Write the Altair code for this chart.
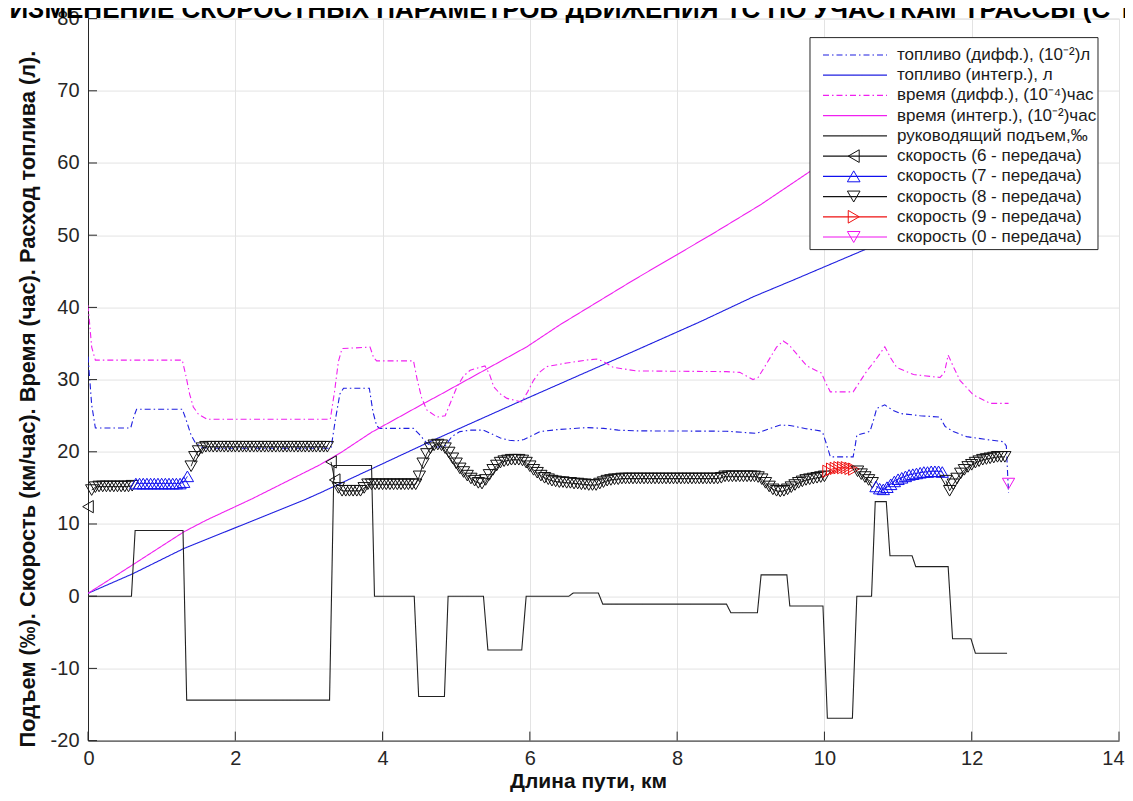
import altair as alt
import pandas as pd

# ---------------- text ----------------
TITLE_TEXT = ". ИЗМЕНЕНИЕ СКОРОСТНЫХ ПАРАМЕТРОВ  ДВИЖЕНИЯ ТС ПО УЧАСТКАМ ТРАССЫ (С ТЕ"
Y_TITLE = "Подъем (‰).  Скорость (км/час).  Время (час).  Расход топлива (л)."
X_TITLE = "Длина пути, км"

N_FD = "топливо (дифф.), (10⁻²)л"
N_FI = "топливо (интегр.), л"
N_TD = "время (дифф.), (10⁻⁴)час"
N_TI = "время (интегр.), (10⁻²)час"
N_GR = "руководящий подъем,‰"
N_G6 = "скорость (6 - передача)"
N_G7 = "скорость (7 - передача)"
N_G8 = "скорость (8 - передача)"
N_G9 = "скорость (9 - передача)"
N_G0 = "скорость (0 - передача)"

series_names = [N_FD, N_FI, N_TD, N_TI, N_GR, N_G6, N_G7, N_G8, N_G9, N_G0]
series_colors = ["#1f1fe0", "#1f1fe0", "#f020f0", "#f020f0", "#222222",
                 "#111111", "#1010ee", "#111111", "#ee1010", "#ee10ee"]
series_dash = [[6, 3, 1.5, 3], [1, 0], [6, 3, 1.5, 3], [1, 0], [1, 0],
               [1, 0], [1, 0], [1, 0], [1, 0], [1, 0]]
series_shapes = ["circle", "circle", "circle", "circle", "circle",
                 "triangle-left", "triangle-up", "triangle-down", "triangle-right", "triangle-down"]

x_ticks = [0, 2, 4, 6, 8, 10, 12, 14]
y_ticks = [-20, -10, 0, 10, 20, 30, 40, 50, 60, 70, 80]

# ---------------- data ----------------
grade_km = [0.00, 0.59, 0.64, 1.29, 1.34, 3.28, 3.34, 3.85, 3.89, 4.43,
            4.49, 4.84, 4.89, 5.37, 5.43, 5.89, 5.95, 6.53, 6.59, 6.93,
            6.99, 8.67, 8.73, 9.09, 9.14, 9.49, 9.53, 9.98, 10.04, 10.38,
            10.44, 10.64, 10.69, 10.84, 10.89, 11.19, 11.24, 11.68, 11.74, 11.99,
            12.05, 12.48]
grade_val = [0, 0, 9.1, 9.1, -14.4, -14.4, 18.1, 18.1, 0, 0,
             -13.9, -13.9, 0, 0, -7.45, -7.45, 0, 0, 0.45, 0.45,
             -1.1, -1.1, -2.3, -2.3, 2.95, 2.95, -1.35, -1.35, -16.9, -16.9,
             0, 0, 13.1, 13.1, 5.6, 5.6, 4.1, 4.1, -5.9, -5.9,
             -7.9, -7.9]

fuel_diff_km = [0.00, 0.05, 0.10, 0.58, 0.62, 0.66, 1.28, 1.33, 1.40, 1.46,
                1.55, 1.65, 3.30, 3.36, 3.42, 3.47, 3.82, 3.87, 3.92, 3.96,
                4.42, 4.50, 4.60, 4.70, 4.85, 4.94, 5.05, 5.20, 5.37, 5.48,
                5.60, 5.72, 5.82, 5.92, 6.00, 6.14, 6.40, 6.77, 7.00, 7.20,
                7.45, 8.67, 9.08, 9.25, 9.40, 9.53, 9.75, 9.94, 9.98, 10.03,
                10.08, 10.39, 10.42, 10.44, 10.55, 10.62, 10.67, 10.71, 10.82, 10.92,
                11.03, 11.30, 11.57, 11.60, 11.64, 11.75, 11.93, 12.20, 12.43, 12.47,
                12.50]
fuel_diff_val = [33.2, 26.5, 23.3, 23.3, 24.8, 25.9, 25.9, 24.5, 22.3, 21.2,
                 20.6, 20.5, 20.5, 24.5, 28.0, 28.8, 28.8, 25.5, 23.6, 23.25,
                 23.25, 22.4, 21.2, 20.6, 20.8, 22.1, 22.8, 23.0, 23.0, 22.5,
                 21.9, 21.6, 21.5, 21.7, 22.1, 22.8, 23.1, 23.35, 23.25, 23.0,
                 22.9, 22.85, 22.55, 23.2, 23.7, 23.65, 23.2, 22.9, 22.55, 21.0,
                 19.3, 19.3, 21.0, 22.3, 22.6, 22.85, 24.5, 26.0, 26.5, 25.8,
                 25.3, 25.0, 24.8, 24.2, 23.5, 22.8, 22.1, 21.7, 21.4, 20.8,
                 14.3]

time_diff_km = [0.00, 0.05, 0.10, 1.28, 1.33, 1.38, 1.43, 1.50, 1.62, 3.29,
                3.35, 3.40, 3.45, 3.83, 3.88, 3.92, 4.42, 4.47, 4.53, 4.60,
                4.74, 4.85, 4.93, 5.01, 5.10, 5.19, 5.39, 5.45, 5.51, 5.60,
                5.69, 5.89, 5.97, 6.05, 6.13, 6.23, 6.50, 6.77, 6.91, 7.00,
                7.13, 7.45, 8.67, 8.85, 9.03, 9.10, 9.22, 9.35, 9.44, 9.52,
                9.62, 9.76, 9.96, 10.02, 10.08, 10.39, 10.48, 10.57, 10.70, 10.82,
                10.90, 10.98, 11.21, 11.57, 11.63, 11.68, 11.75, 11.84, 12.02, 12.25,
                12.50]
time_diff_val = [40.3, 34.5, 32.7, 32.7, 30.5, 28.0, 26.2, 25.2, 24.5, 24.5,
                 28.5, 32.5, 34.3, 34.5, 33.0, 32.6, 32.6, 30.0, 27.5, 25.8,
                 24.8, 25.0, 27.0, 29.0, 30.5, 31.3, 31.9, 30.8, 29.0, 28.0,
                 27.4, 26.9, 28.3, 29.9, 31.0, 31.8, 32.3, 32.7, 32.85, 32.5,
                 31.7, 31.2, 31.1, 31.0, 30.0, 30.3, 32.3, 34.5, 35.35, 34.8,
                 33.6, 31.9, 30.9, 29.5, 28.3, 28.3, 29.7, 31.1, 32.8, 34.55,
                 33.0, 31.7, 30.7, 30.3, 31.0, 33.4, 31.8, 29.9, 27.9, 26.7,
                 26.7]

fuel_int_km = [0.00, 0.60, 1.30, 2.93, 3.15, 4.60, 5.87, 7.45, 8.31, 9.04, 9.58, 10.48, 12.50]
fuel_int_val = [0.4, 3.07, 6.6, 13.3, 14.3, 21.2, 27.0, 34.1, 38.0, 41.5, 43.8, 47.7, 56.6]

time_int_km = [0.00, 0.60, 1.30, 1.60, 2.23, 3.15, 3.45, 3.85, 4.56, 4.78,
               5.96, 6.41, 7.41, 8.45, 9.13, 9.80, 10.40, 11.50, 12.50]
time_int_val = [0.4, 4.3, 8.9, 10.5, 13.5, 18.2, 20.0, 22.7, 26.7, 27.9,
                34.55, 37.6, 43.8, 50.0, 54.2, 58.8, 62.4, 69.0, 75.0]

speed_km = [0.00, 0.05, 0.10, 0.15, 0.20, 0.25, 0.30, 0.35, 0.40, 0.45,
            0.50, 0.55, 0.60, 0.65, 0.70, 0.75, 0.80, 0.85, 0.90, 0.95,
            1.00, 1.05, 1.10, 1.15, 1.20, 1.25, 1.30, 1.35, 1.40, 1.45,
            1.50, 1.55, 1.60, 1.65, 1.70, 1.75, 1.80, 1.85, 1.90, 1.95,
            2.00, 2.05, 2.10, 2.15, 2.20, 2.25, 2.30, 2.35, 2.40, 2.45,
            2.50, 2.55, 2.60, 2.65, 2.70, 2.75, 2.80, 2.85, 2.90, 2.95,
            3.00, 3.05, 3.10, 3.15, 3.20, 3.25, 3.30, 3.35, 3.40, 3.45,
            3.50, 3.55, 3.60, 3.65, 3.70, 3.75, 3.80, 3.85, 3.90, 3.95,
            4.00, 4.05, 4.10, 4.15, 4.20, 4.25, 4.30, 4.35, 4.40, 4.45,
            4.50, 4.55, 4.60, 4.65, 4.70, 4.75, 4.80, 4.85, 4.90, 4.95,
            5.00, 5.05, 5.10, 5.15, 5.20, 5.25, 5.30, 5.35, 5.40, 5.45,
            5.50, 5.55, 5.60, 5.65, 5.70, 5.75, 5.80, 5.85, 5.90, 5.95,
            6.00, 6.05, 6.10, 6.15, 6.20, 6.25, 6.30, 6.35, 6.40, 6.45,
            6.50, 6.55, 6.60, 6.65, 6.70, 6.75, 6.80, 6.85, 6.90, 6.95,
            7.00, 7.05, 7.10, 7.15, 7.20, 7.25, 7.30, 7.35, 7.40, 7.45,
            7.50, 7.55, 7.60, 7.65, 7.70, 7.75, 7.80, 7.85, 7.90, 7.95,
            8.00, 8.05, 8.10, 8.15, 8.20, 8.25, 8.30, 8.35, 8.40, 8.45,
            8.50, 8.55, 8.60, 8.65, 8.70, 8.75, 8.80, 8.85, 8.90, 8.95,
            9.00, 9.05, 9.10, 9.15, 9.20, 9.25, 9.30, 9.35, 9.40, 9.45,
            9.50, 9.55, 9.60, 9.65, 9.70, 9.75, 9.80, 9.85, 9.90, 9.95,
            10.00, 10.05, 10.10, 10.15, 10.20, 10.25, 10.30, 10.35, 10.40, 10.45,
            10.50, 10.55, 10.60, 10.65, 10.70, 10.75, 10.80, 10.85, 10.90, 10.95,
            11.00, 11.05, 11.10, 11.15, 11.20, 11.25, 11.30, 11.35, 11.40, 11.45,
            11.50, 11.55, 11.60, 11.65, 11.70, 11.75, 11.80, 11.85, 11.90, 11.95,
            12.00, 12.05, 12.10, 12.15, 12.20, 12.25, 12.30, 12.35, 12.40, 12.45,
            12.50]
speed_kmh = [12.4, 14.7, 15.1, 15.2, 15.2, 15.2, 15.2, 15.2, 15.2, 15.2,
             15.2, 15.2, 15.3, 15.6, 15.6, 15.6, 15.6, 15.6, 15.6, 15.6,
             15.6, 15.6, 15.6, 15.6, 15.6, 15.6, 15.8, 16.6, 18.0, 19.3,
             20.1, 20.5, 20.7, 20.7, 20.7, 20.7, 20.7, 20.7, 20.7, 20.7,
             20.7, 20.7, 20.7, 20.7, 20.7, 20.7, 20.7, 20.7, 20.7, 20.7,
             20.7, 20.7, 20.7, 20.7, 20.7, 20.7, 20.7, 20.7, 20.7, 20.7,
             20.7, 20.7, 20.7, 20.7, 20.7, 20.7, 18.6, 16.1, 15.0, 14.6,
             14.6, 14.6, 14.6, 14.6, 14.6, 15.0, 15.5, 15.5, 15.5, 15.5,
             15.5, 15.5, 15.5, 15.5, 15.5, 15.5, 15.5, 15.5, 15.5, 15.5,
             16.6, 18.4, 19.7, 20.5, 20.9, 21.0, 20.9, 20.5, 19.9, 19.1,
             18.4, 17.7, 17.2, 16.7, 16.3, 16.0, 15.7, 15.6, 16.1, 16.8,
             17.5, 18.1, 18.5, 18.7, 18.8, 18.9, 18.9, 18.9, 18.8, 18.5,
             18.0, 17.5, 17.1, 16.7, 16.4, 16.2, 16.0, 15.9, 15.8, 15.8,
             15.7, 15.7, 15.6, 15.6, 15.5, 15.5, 15.4, 15.4, 15.4, 15.6,
             15.8, 16.0, 16.1, 16.2, 16.2, 16.3, 16.3, 16.3, 16.3, 16.3,
             16.3, 16.3, 16.3, 16.3, 16.3, 16.3, 16.3, 16.3, 16.3, 16.3,
             16.3, 16.3, 16.3, 16.3, 16.3, 16.3, 16.3, 16.3, 16.3, 16.3,
             16.3, 16.3, 16.4, 16.6, 16.6, 16.6, 16.6, 16.6, 16.6, 16.6,
             16.6, 16.6, 16.5, 16.2, 15.7, 15.2, 14.8, 14.6, 14.5, 14.6,
             14.8, 15.1, 15.4, 15.7, 15.9, 16.1, 16.2, 16.3, 16.4, 16.5,
             16.6, 17.3, 17.6, 17.7, 17.8, 17.8, 17.8, 17.7, 17.6, 17.3,
             16.9, 16.5, 16.1, 15.7, 15.2, 14.9, 14.8, 15.1, 15.5, 15.9,
             16.2, 16.4, 16.6, 16.8, 16.9, 17.0, 17.1, 17.2, 17.2, 17.3,
             17.3, 17.3, 17.2, 16.0, 14.6, 15.5, 16.3, 17.0, 17.5, 17.9,
             18.2, 18.5, 18.7, 18.9, 19.0, 19.1, 19.2, 19.3, 19.3, 19.3,
             15.6]
speed_gear = [6, 8, 8, 8, 8, 8, 8, 8, 8, 8,
              8, 8, 8, 7, 7, 7, 7, 7, 7, 7,
              7, 7, 7, 7, 7, 7, 7, 7, 8, 8,
              8, 8, 8, 8, 8, 8, 8, 8, 8, 8,
              8, 8, 8, 8, 8, 8, 8, 8, 8, 8,
              8, 8, 8, 8, 8, 8, 8, 8, 8, 8,
              8, 8, 8, 8, 8, 8, 6, 6, 8, 8,
              8, 8, 8, 8, 8, 8, 8, 8, 8, 8,
              8, 8, 8, 8, 8, 8, 8, 8, 8, 8,
              8, 8, 8, 8, 8, 8, 8, 8, 8, 8,
              8, 8, 8, 8, 8, 8, 8, 8, 8, 8,
              8, 8, 8, 8, 8, 8, 8, 8, 8, 8,
              8, 8, 8, 8, 8, 8, 8, 8, 8, 8,
              8, 8, 8, 8, 8, 8, 8, 8, 8, 8,
              8, 8, 8, 8, 8, 8, 8, 8, 8, 8,
              8, 8, 8, 8, 8, 8, 8, 8, 8, 8,
              8, 8, 8, 8, 8, 8, 8, 8, 8, 8,
              8, 8, 8, 8, 8, 8, 8, 8, 8, 8,
              8, 8, 8, 8, 8, 8, 8, 8, 8, 8,
              8, 8, 8, 8, 8, 8, 8, 8, 8, 8,
              8, 9, 9, 9, 9, 9, 9, 9, 9, 8,
              8, 8, 8, 8, 7, 7, 7, 7, 7, 7,
              7, 7, 7, 7, 7, 7, 7, 7, 7, 7,
              7, 7, 7, 8, 8, 8, 8, 8, 8, 8,
              8, 8, 8, 8, 8, 8, 8, 8, 8, 8,
              0]

# ---------------- tables ----------------
def long_table(name, xs, ys):
    return pd.DataFrame({"series": name, "km": xs, "val": ys, "ord": list(range(len(xs)))})

lines_df = pd.concat([
    long_table(N_FD, fuel_diff_km, fuel_diff_val),
    long_table(N_FI, fuel_int_km, fuel_int_val),
    long_table(N_TD, time_diff_km, time_diff_val),
    long_table(N_TI, time_int_km, time_int_val),
    long_table(N_GR, grade_km, grade_val),
], ignore_index=True)

gear_name = {6: N_G6, 7: N_G7, 8: N_G8, 9: N_G9, 0: N_G0}
speed_df = pd.DataFrame({"km": speed_km, "val": speed_kmh, "gear": speed_gear})
speed_df["series"] = speed_df["gear"].map(gear_name)
speed_df["seg"] = (speed_df["gear"] != speed_df["gear"].shift()).cumsum()
speed_df["ord"] = list(range(len(speed_df)))

legend_df = pd.DataFrame({"series": series_names, "row": list(range(len(series_names)))})
legend_lines = pd.concat([legend_df.assign(end=0.0), legend_df.assign(end=1.0)], ignore_index=True)
legend_marks = legend_df[legend_df["series"].isin([N_G6, N_G7, N_G8, N_G9, N_G0])].assign(end=0.48)

# ---------------- encodings ----------------
NARROW = "Liberation Sans Narrow, Arial Narrow, Liberation Sans, Arial, sans-serif"
REG = "Liberation Sans, Arial, Helvetica, sans-serif"
AX = "#262626"

x_axis = alt.Axis(values=x_ticks, grid=True, gridColor="#e3e3e3", gridWidth=1,
                  domainColor=AX, domainWidth=1, ticks=False,
                  labelFont=REG, labelFontSize=20, labelColor=AX, labelPadding=8,
                  labelExpr="datum.value", labelFlush=True, labelFlushOffset=5,
                  labelOverlap=False,
                  title=X_TITLE, titleFont=NARROW, titleFontSize=21, titleFontWeight="bold",
                  titleColor="#111111", titleX=500, titleY=47, titleAlign="center",
                  titleBaseline="alphabetic")
y_axis = alt.Axis(values=y_ticks, grid=True, gridColor="#e3e3e3", gridWidth=1,
                  domainColor=AX, domainWidth=1, ticks=False,
                  labelFont=REG, labelFontSize=20, labelColor=AX, labelPadding=9,
                  labelExpr="datum.value", labelFlush=False, labelOverlap=False,
                  title=Y_TITLE, titleFont=NARROW, titleFontSize=21.8, titleFontWeight="bold",
                  titleColor="#111111", titleAngle=270, titleX=-61, titleY=380,
                  titleAlign="center", titleBaseline="middle")

X_SCALE = alt.Scale(domain=[0, 14], nice=False, zero=False)
Y_SCALE = alt.Scale(domain=[-20, 80], nice=False, zero=False)
x_enc = alt.X("km:Q", scale=X_SCALE, axis=x_axis)
y_enc = alt.Y("val:Q", scale=Y_SCALE, axis=y_axis)
color_enc = alt.Color("series:N", scale=alt.Scale(domain=series_names, range=series_colors), legend=None)
dash_enc = alt.StrokeDash("series:N", scale=alt.Scale(domain=series_names, range=series_dash), legend=None)
shape_enc = alt.Shape("series:N", scale=alt.Scale(domain=series_names, range=series_shapes), legend=None)

lines = alt.Chart(lines_df).mark_line(strokeWidth=1.1, clip=True).encode(
    x=x_enc, y=y_enc, color=color_enc, strokeDash=dash_enc,
    detail="series:N", order="ord:Q")

speed_lines = alt.Chart(speed_df).mark_line(strokeWidth=0.9).encode(
    x=x_enc, y=y_enc, color=color_enc, detail="seg:N", order="ord:Q")

speed_pts = alt.Chart(speed_df).mark_point(filled=False, size=150, strokeWidth=1.0, opacity=1).encode(
    x=x_enc, y=y_enc, color=color_enc, shape=shape_enc)

xt = alt.Chart(pd.DataFrame({"km": x_ticks})).mark_rule(color=AX, strokeWidth=1).encode(
    x=x_enc, y=alt.value(722), y2=alt.value(713))
yt = alt.Chart(pd.DataFrame({"val": y_ticks})).mark_rule(color=AX, strokeWidth=1).encode(
    y=y_enc, x=alt.value(0), x2=alt.value(9))

title = alt.Chart(pd.DataFrame({"t": [TITLE_TEXT]})).mark_text(
    align="left", baseline="alphabetic", font=NARROW, fontSize=26, fontWeight="bold", color="#000000"
).encode(text="t:N", x=alt.value(-93), y=alt.value(-1))

main = alt.layer(lines, speed_lines, speed_pts, xt, yt, title)

# ---------------- legend ----------------
LX = alt.Scale(domain=[0, 1], range=[735, 799])
LY = alt.Scale(domain=[0, 9], range=[36.4, 218.4])

box = alt.Chart(pd.DataFrame({"b": [0]})).mark_rect(fill="white", stroke=AX, strokeWidth=1).encode(
    x=alt.value(722), x2=alt.value(1010), y=alt.value(19), y2=alt.value(231))
leg_lines = alt.Chart(legend_lines).mark_line(strokeWidth=1.2).encode(
    x=alt.X("end:Q", scale=LX, axis=None), y=alt.Y("row:Q", scale=LY, axis=None),
    color=color_enc, strokeDash=dash_enc, detail="series:N")
leg_pts = alt.Chart(legend_marks).mark_point(filled=False, size=160, strokeWidth=1, opacity=1).encode(
    x=alt.X("end:Q", scale=LX, axis=None), y=alt.Y("row:Q", scale=LY, axis=None),
    color=color_enc, shape=shape_enc)
leg_text = alt.Chart(legend_df).mark_text(align="left", baseline="middle", font=NARROW,
                                          fontSize=17, color="#1a1a1a").encode(
    x=alt.value(809), y=alt.Y("row:Q", scale=LY, axis=None), text="series:N")

legend = alt.layer(box, leg_lines, leg_pts, leg_text)

chart = alt.layer(main, legend).resolve_scale(x="independent", y="independent").properties(
    width=1031, height=722,
    padding={"left": 80, "top": 10.6, "right": 6, "bottom": 52},
    autosize=alt.AutoSizeParams(type="none"),
).configure_view(stroke=None).configure(background="white")

chart.save("out.html", embed_options={"renderer": "svg", "actions": False})
